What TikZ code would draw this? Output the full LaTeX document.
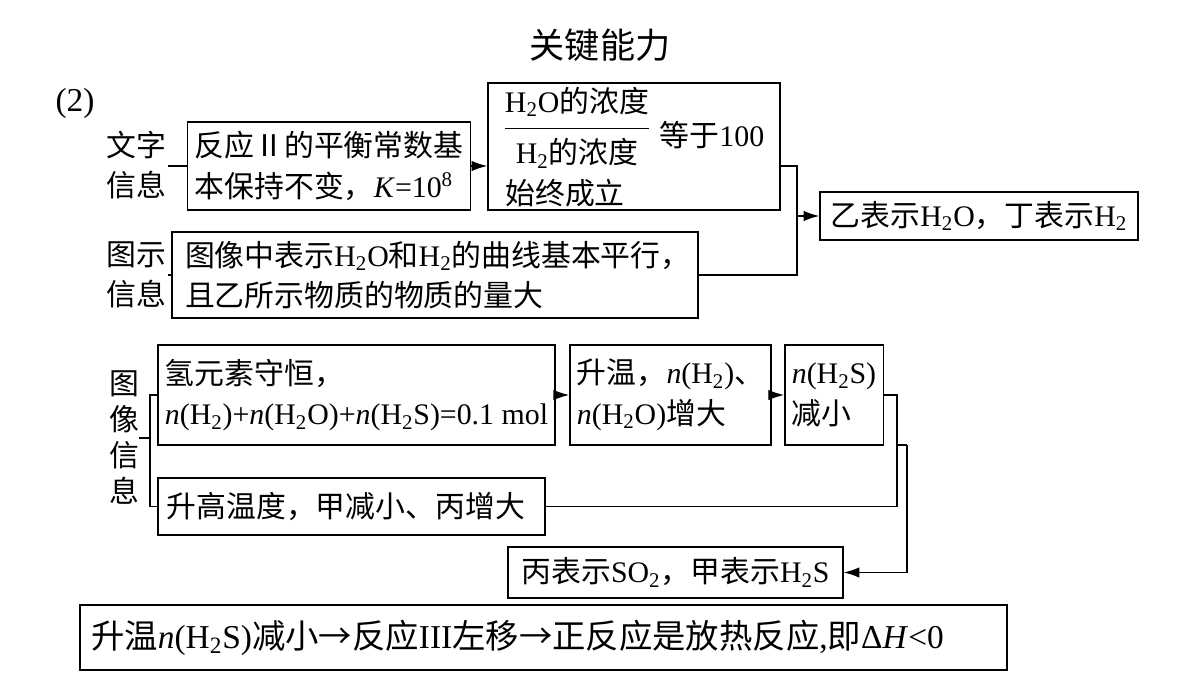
\documentclass[tikz,border=0pt]{standalone}
\usepackage{fontspec}
\setmainfont{Noto Sans CJK SC}
\newfontfamily\latin{Liberation Serif}
\usetikzlibrary{positioning,arrows.meta}
\newcommand\lt[1]{{\latin #1}}
\newcommand\sbs[1]{\textsubscript{#1}}
\tikzset{
  box/.style 2 args={draw,thick,minimum width=#1,minimum height=#2,align=left,inner sep=4pt},
  lbl/.style={align=center,inner sep=0pt},
  con/.style={thick},
  arr/.style={thick,-{Latex[length=9pt,width=6pt]}}
}
\begin{document}
\begin{tikzpicture}[x=0.02cm,y=-0.02cm,font=\fontsize{17}{23}\selectfont]
\useasboundingbox (0,0) rectangle (1200,675);
\node[lbl,font=\fontsize{20}{22}\selectfont] (title) at (600,45) {关键能力};
\node[lbl,font=\fontsize{19}{22}\selectfont] (num) at (75,103) {\lt{(2)}};
% text info
\node[lbl] (wz) at (136,165) {文字\\信息};
\node[box={5.64cm}{1.76cm}] (k) at (329,166) {反应Ⅱ的平衡常数基\\本保持不变，\lt{\textit{K}=10\textsuperscript{8}}};
\node[box={5.84cm}{2.54cm}] (ratio) at (634,146.5) {};
\node[lbl] (frac) at (577,130) {\begin{tabular}{@{}c@{}}\lt{H\sbs2O}的浓度\\[2pt]\hline\rule{0pt}{20pt}\lt{H\sbs2}的浓度\end{tabular}};
\node[lbl] (eq) at (712,135) {等于\lt{100}};
\node[lbl] (ok) at (565,193) {始终成立};
% picture info
\node[lbl] (ts) at (136,275) {图示\\信息};
\node[box={10.52cm}{1.72cm},text width=10cm] (par) at (435,275) {图像中表示\lt{H\sbs2O}和\lt{H\sbs2}的曲线基本平行，\\且乙所示物质的物质的量大};
\node[box={6.36cm}{0.96cm},align=center] (res1) at (979,216) {乙表示\lt{H\sbs2O}，丁表示\lt{H\sbs2}};
\coordinate (j1) at (797,216);
\draw[con] (wz.east |- k.west) ++(2,0) -- (k.west);
\draw[con] (ts.east |- par.west) ++(2,0) -- (par.west);
\draw[arr] (k.east) -- (ratio.west |- k.east);
\draw[con] (ratio.east |- k.east) -| (j1) |- (par.east);
\draw[arr] (j1) -- (res1.west);
% image info
\node[lbl,font=\fontsize{17}{20.5}\selectfont] (tx) at (124,438) {图\\像\\信\\息};
\node[box={7.94cm}{2.0cm}] (sum) at (356.5,395) {氢元素守恒，\\\lt{\textit{n}(H\sbs2)+\textit{n}(H\sbs2O)+\textit{n}(H\sbs2S)=0.1 mol}};
\node[box={3.9cm}{2.0cm}] (up) at (670.5,395) {升温，\lt{\textit{n}(H\sbs2)}、\\\lt{\textit{n}(H\sbs2O)}增大};
\node[box={1.84cm}{2.0cm}] (dn) at (834,395) {\lt{\textit{n}(H\sbs2S)}\\减小};
\node[box={7.74cm}{1.14cm},text width=7.4cm] (tmp) at (351.5,506.5) {升高温度，甲减小、丙增大};
\node[box={6.7cm}{1.02cm},align=center] (res2) at (675.5,572.5) {丙表示\lt{SO\sbs2}，甲表示\lt{H\sbs2S}};
\coordinate (b1) at (150,395);
\coordinate (b2) at (150,506.5);
\coordinate (j2) at (897,445);
\coordinate (j3) at (907,445);
\draw[con] (sum.west) -- (b1) -- (b2) -- (tmp.west);
\draw[con] (tx.east) -- (tx.east -| b1);
\draw[arr] (sum.east) -- (up.west);
\draw[arr] (up.east) -- (dn.west);
\draw[con] (dn.east) -| (j2) -- (j3);
\draw[con] (tmp.east) -| (j2);
\draw[arr] (j3) |- (res2.east);
% conclusion
\node[box={18.54cm}{1.3cm},text width=18.1cm,font=\fontsize{19}{22}\selectfont] (end) at (543.5,637.5) {升温\lt{\textit{n}(H\sbs2S)}减小→反应\lt{III}左移→正反应是放热反应\lt{,}即\lt{Δ\textit{H}<0}};
\end{tikzpicture}
\end{document}
